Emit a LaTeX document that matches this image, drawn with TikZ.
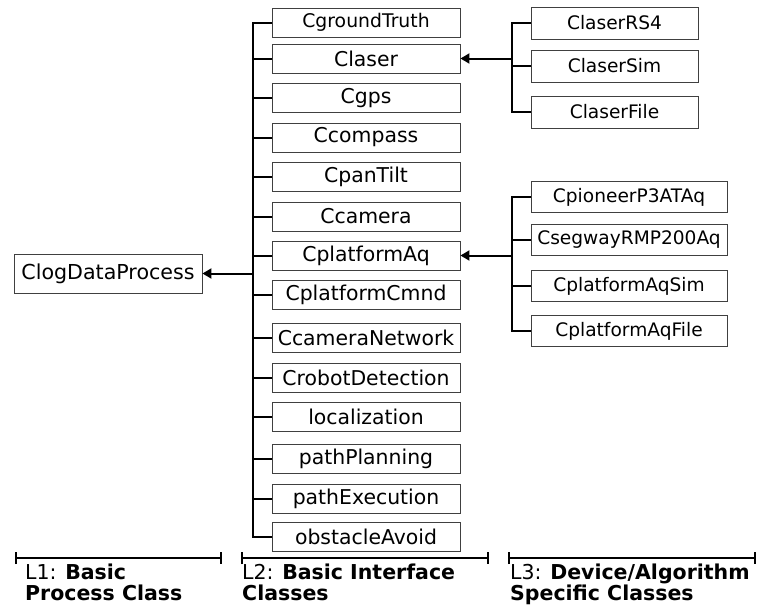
\documentclass[tikz,border=0pt]{standalone}
\usepackage{fontspec}
\setmainfont{DejaVu Sans}
\usetikzlibrary{arrows.meta}
\begin{document}
\begin{tikzpicture}[x=1pt,y=-1pt,
  box/.style={draw=black!75, line width=0.9pt, inner sep=0pt, fill=white},
  ltwo/.style={box, minimum width=188pt, minimum height=29pt, font=\fontsize{20.4}{24}\selectfont},
  lthree/.style={box, minimum width=167pt, minimum height=32pt, font=\fontsize{18.6}{22}\selectfont},
  lthreew/.style={lthree, minimum width=196pt, minimum height=31pt},
  conn/.style={line width=2pt, black, line join=miter},
  branch/.style={line width=2pt, black},
  inh/.style={conn, -{Triangle[length=9pt,width=10pt]}},
  bar/.style={line width=2pt, {Bar[width=12pt]}-{Bar[width=12pt]}},
  lvl/.style={anchor=base west, inner sep=0pt, font=\fontsize{20.5}{24}\selectfont}
]
\useasboundingbox (0,0) rectangle (757,608);

% L1
\node[box, minimum width=188pt, minimum height=39pt, font=\fontsize{20.6}{24}\selectfont] (logp) at (108,273.5) {ClogDataProcess};

% L2
\node[ltwo, font=\fontsize{18.8}{22}\selectfont] (gt) at (366,22.5) {CgroundTruth};
\node[ltwo] (claser) at (366,58.5) {Claser};
\node[ltwo] (gps) at (366,98) {Cgps};
\node[ltwo] (compass) at (366,137.5) {Ccompass};
\node[ltwo] (pantilt) at (366,177) {CpanTilt};
\node[ltwo] (camera) at (366,216.5) {Ccamera};
\node[ltwo] (plataq) at (366,255.5) {CplatformAq};
\node[ltwo] (platcmnd) at (366,294.5) {CplatformCmnd};
\node[ltwo] (camnet) at (366,337.5) {CcameraNetwork};
\node[ltwo] (robdet) at (366,377.5) {CrobotDetection};
\node[ltwo] (loc) at (366,416.5) {localization};
\node[ltwo] (pplan) at (366,458.5) {pathPlanning};
\node[ltwo] (pexec) at (366,498.5) {pathExecution};
\node[ltwo] (oa) at (366,536.5) {obstacleAvoid};

% L3
\node[lthree] (rs4) at (614.5,23) {ClaserRS4};
\node[lthree] (lsim) at (614.5,66) {ClaserSim};
\node[lthree] (lfile) at (614.5,112) {ClaserFile};
\node[lthreew] (pion) at (629,197) {CpioneerP3ATAq};
\node[lthreew] (seg) at (629,240) {CsegwayRMP200Aq};
\node[lthreew] (asim) at (629,286) {CplatformAqSim};
\node[lthreew] (afile) at (629,331) {CplatformAqFile};

% spine coordinates
\coordinate (sp2) at (252.5,0);
\coordinate (sp3) at (511.5,0);

% L2 tree
\draw[conn] (gt.west) -- (gt.west -| sp2) -- (oa.west -| sp2) -- (oa.west);
\foreach \n in {claser,gps,compass,pantilt,camera,plataq,platcmnd,camnet,robdet,loc,pplan,pexec}
  \draw[branch] (\n.west -| sp2) -- (\n.west);
\draw[inh] (sp2 |- logp.east) -- (logp.east);

% L3 laser tree
\draw[conn] (rs4.west) -- (rs4.west -| sp3) -- (lfile.west -| sp3) -- (lfile.west);
\draw[branch] (lsim.west -| sp3) -- (lsim.west);
\draw[inh] (sp3 |- claser.east) -- (claser.east);

% L3 platform tree
\draw[conn] (pion.west) -- (pion.west -| sp3) -- (afile.west -| sp3) -- (afile.west);
\draw[branch] (seg.west -| sp3) -- (seg.west);
\draw[branch] (asim.west -| sp3) -- (asim.west);
\draw[inh] (sp3 |- plataq.east) -- (plataq.east);

% level bars
\draw[bar] (15,558) -- (222,558);
\draw[bar] (241,558) -- (488.5,558);
\draw[bar] (507.5,558) -- (755.5,558);

% level labels
\node[lvl] (l1a) at (25,579) {L1: \textbf{Basic}};
\node[lvl] (l1b) at (25,600) {\textbf{Process Class}};
\node[lvl] (l2a) at (242,579) {L2: \textbf{Basic Interface}};
\node[lvl] (l2b) at (242,600) {\textbf{Classes}};
\node[lvl] (l3a) at (510,579) {L3: \textbf{Device/Algorithm}};
\node[lvl] (l3b) at (510,600) {\textbf{Specific Classes}};
\end{tikzpicture}
\end{document}
